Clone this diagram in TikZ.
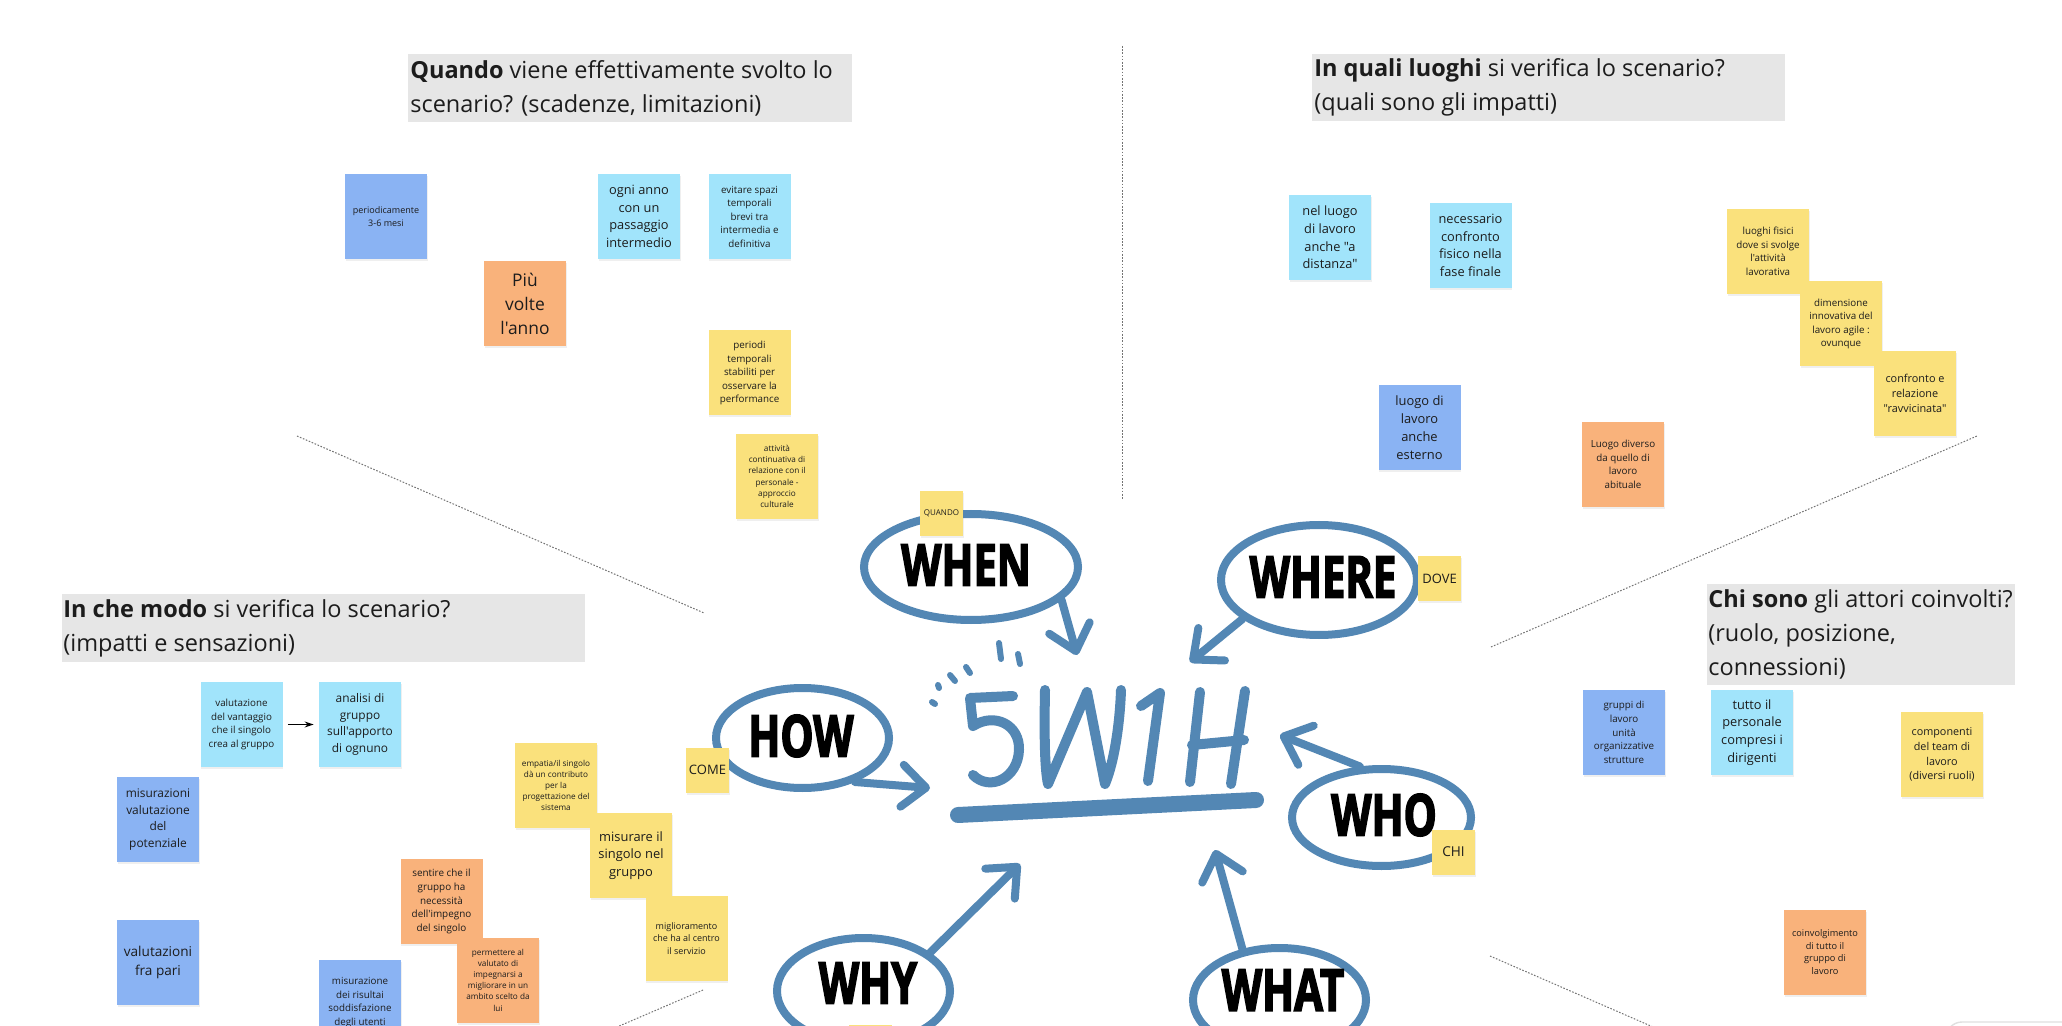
\documentclass[tikz,border=0pt]{standalone}
\usepackage{fontspec}
\setmainfont{Open Sans}[Ligatures=TeXOff]
\newfontfamily\handfont{Open Sans}[FakeStretch=0.72, BoldFeatures={FakeBold=2.5}]
\usetikzlibrary{arrows.meta,shapes.geometric,shadows}
\definecolor{nblue}{HTML}{8AB3F3}
\definecolor{ncyan}{HTML}{A1E4FB}
\definecolor{nyellow}{HTML}{FAE17C}
\definecolor{norange}{HTML}{F9B27B}
\definecolor{hgray}{HTML}{E6E6E6}
\definecolor{bblue}{HTML}{5387B4}
\definecolor{ink}{HTML}{1C1C1C}
\newcommand{\ft}[2]{\fontsize{#1pt}{#2pt}\selectfont}
\begin{document}
\begin{tikzpicture}[x=0.5pt,y=-0.5pt,
  note/.style={rectangle, inner sep=1pt, minimum width=41pt, minimum height=42.5pt, align=center, text=ink,
    drop shadow={shadow xshift=0.4pt, shadow yshift=-1pt, opacity=0.12}},
  smallnote/.style={note, minimum width=21.5pt, minimum height=22.5pt},
  header/.style={anchor=west, align=left, inner sep=0pt, text=ink, font=\ft{11.75}{17}},
  bubble/.style={ellipse, draw=bblue, line width=4pt, fill=white, inner sep=0pt},
  bubtext/.style={inner sep=0pt, font=\handfont\bfseries\ft{29}{30}, text=black},
  barrow/.style={draw=bblue, line width=4pt, line cap=round, line join=round, -{Straight Barb[length=12pt,width=21pt,round]}},
  glyph/.style={draw=bblue, line width=5pt, line cap=round, line join=round},
  ray/.style={draw=bblue, line width=3pt, line cap=round},
  divider/.style={draw=black!55, line width=0.5pt, dash pattern=on 0.8pt off 0.8pt}
]
\useasboundingbox (0,0) rectangle (2062,1026);
\clip (0,0) rectangle (2062,1026);
\fill[white] (0,0) rectangle (2062,1026);

% dividers
\draw[divider] (1122,46) -- (1122,500);
\draw[divider] (297,436) -- (704,613);
\draw[divider] (1491,647) -- (1977,436);
\draw[divider] (703,990) -- (610,1030);
\draw[divider] (1490,956) -- (1660,1030);
\draw[black!12, line width=0.7pt, rounded corners=8pt] (1946,1040) -- (1946,1022) -- (2080,1022);

% headers
\fill[hgray] (408,54) rectangle (852,122);
\node[header] (h1) at (410,88) {\textbf{Quando} viene effettivamente svolto lo\\scenario? (scadenze, limitazioni)};
\fill[hgray] (1312,54) rectangle (1785,121);
\node[header] (h2) at (1314,87.5) {\textbf{In quali luoghi} si verifica lo scenario?\\(quali sono gli impatti)};
\fill[hgray] (62,594) rectangle (585,662);
\node[header] (h3) at (63,628) {\textbf{In che modo} si verifica lo scenario?\\(impatti e sensazioni)};
\fill[hgray] (1707,584) rectangle (2015,685);
\node[header] (h4) at (1708,634.5) {\textbf{Chi sono} gli attori coinvolti?\\(ruolo, posizione,\\connessioni)};

% notes
\node[note, fill=nblue, font=\ft{4.5}{6.15}] (n1) at (386,216.5) {periodicamente\\3-6 mesi};
\node[note, fill=norange, font=\ft{8.7}{12}] (n2) at (525,303.5) {Più\\volte\\l'anno};
\node[note, fill=ncyan, font=\ft{6.4}{8.85}] (n3) at (639,216.5) {ogni anno\\con un\\passaggio\\intermedio};
\node[note, fill=ncyan, font=\ft{4.9}{6.75}] (n4) at (749.5,216.5) {evitare spazi\\temporali\\brevi tra\\intermedia e\\definitiva};
\node[note, fill=nyellow, font=\ft{4.9}{6.75}] (n5) at (749.5,373) {periodi\\temporali\\stabiliti per\\osservare la\\performance};
\node[note, fill=nyellow, font=\ft{4.1}{5.65}] (n6) at (777,476.5) {attività\\continuativa di\\relazione con il\\personale -\\approccio\\culturale};
\node[note, fill=ncyan, font=\ft{6.4}{8.85}] (n7) at (1330,237.5) {nel luogo\\di lavoro\\anche "a\\distanza"};
\node[note, fill=ncyan, font=\ft{6.4}{8.85}] (n8) at (1470.5,245.5) {necessario\\confronto\\fisico nella\\fase finale};
\node[note, fill=nyellow, font=\ft{4.9}{6.8}] (n9) at (1768,251.5) {luoghi fisici\\dove si svolge\\l'attività\\lavorativa};
\node[note, fill=nyellow, font=\ft{4.9}{6.8}] (n10) at (1841,324) {dimensione\\innovativa del\\lavoro agile :\\ovunque};
\node[note, fill=nyellow, font=\ft{5.45}{7.5}] (n11) at (1915,393.5) {confronto e\\relazione\\"ravvicinata"};
\node[note, fill=nblue, font=\ft{6.45}{8.9}] (n12) at (1419.5,427.5) {luogo di\\lavoro\\anche\\esterno};
\node[note, fill=norange, font=\ft{4.9}{6.8}] (n13) at (1623,464.5) {Luogo diverso\\da quello di\\lavoro\\abituale};
\node[note, fill=ncyan, font=\ft{4.9}{6.8}] (n14) at (241.5,724.5) {valutazione\\del vantaggio\\che il singolo\\crea al gruppo};
\node[note, fill=ncyan, font=\ft{5.95}{8.2}] (n15) at (360,724.5) {analisi di\\gruppo\\sull'apporto\\di ognuno};
\node[note, fill=nyellow, font=\ft{4.1}{5.6}] (n16) at (556,785.5) {empatia/il singolo\\dà un contributo\\per la\\progettazione del\\sistema};
\node[note, fill=nyellow, font=\ft{6.45}{8.9}] (n18) at (631,855.5) {misurare il\\singolo nel\\gruppo};
\node[note, fill=norange, font=\ft{4.95}{6.85}] (n19) at (441.5,901.5) {sentire che il\\gruppo ha\\necessità\\dell'impegno\\del singolo};
\node[note, fill=norange, font=\ft{4.1}{5.6}] (n20) at (498,980) {permettere al\\valutato di\\impegnarsi a\\migliorare in un\\ambito scelto da\\lui};
\node[note, fill=nyellow, font=\ft{4.5}{6.25}] (n21) at (686.5,938.5) {miglioramento\\che ha al centro\\il servizio};
\node[note, fill=nblue, font=\ft{4.9}{6.7}] (n22) at (360,1002.5) {misurazione\\dei risultai\\soddisfazione\\degli utenti};
\node[note, fill=nblue, font=\ft{5.95}{8.2}] (n23) at (158,819.5) {misurazioni\\valutazione\\del\\potenziale};
\node[note, fill=nblue, font=\ft{6.8}{9.35}] (n24) at (158,962.5) {valutazioni\\fra pari};
\node[note, fill=nblue, font=\ft{4.9}{6.8}] (n25) at (1624,732.5) {gruppi di\\lavoro\\unità\\organizzative\\strutture};
\node[note, fill=ncyan, font=\ft{6.4}{8.85}] (n26) at (1752,732.5) {tutto il\\personale\\compresi i\\dirigenti};
\node[note, fill=nyellow, font=\ft{5.4}{7.45}] (n27) at (1942,754.5) {componenti\\del team di\\lavoro\\(diversi ruoli)};
\node[note, fill=norange, font=\ft{4.6}{6.35}] (n28) at (1825,952) {coinvolgimento\\di tutto il\\gruppo di\\lavoro};

\draw[-{Stealth[length=4.5pt,width=3pt]}, line width=0.6pt, shorten <=2.5pt, shorten >=2.5pt] (n14.east) -- (n15.west);

% 5W1H
\draw[glyph] (1013,696) -- (970,698) -- (973,726) .. controls (995,712) and (1020,725) .. (1019,750) .. controls (1018,778) and (990,792) .. (973,775);
\draw[glyph] (1045,690) .. controls (1044,740) and (1045,770) .. (1048,784) -- (1087,692) -- (1105,784) .. controls (1115,760) and (1120,720) .. (1121,690);
\draw[glyph] (1141,706) -- (1160,693) -- (1148,781);
\draw[glyph] (1200,692) -- (1190,782);
\draw[glyph] (1245,691) -- (1231,784);
\draw[glyph] (1192,745) -- (1244,740);
\draw[bblue, line width=8pt, line cap=round] (958,815) -- (1256,800);
\draw[ray] (999,643) -- (1001,659);
\draw[ray] (1018,654) -- (1020,664);
\draw[ray] (966,667) -- (970,673);
\draw[ray] (950,675) -- (955,681);
\draw[ray] (938,685) -- (939,688);
\draw[ray] (932,702) -- (935,704);

% bubbles
\node[bubble, minimum width=107pt, minimum height=53pt] (when) at (971,567) {};
\node[bubble, minimum width=98pt, minimum height=55pt] (where) at (1319,580) {};
\node[bubble, minimum width=86.5pt, minimum height=50pt] (how) at (802.5,738) {};
\node[bubble, minimum width=89.5pt, minimum height=48.5pt] (who) at (1381.5,817.5) {};
\node[bubble, minimum width=86.5pt, minimum height=53pt] (why) at (863.5,991) {};
\node[bubble, minimum width=86.5pt, minimum height=52pt] (what) at (1279.5,1000) {};
\node[bubtext] (whenT) at (966,565) {WHEN};
\node[bubtext] (whereT) at (1323,577) {WHERE};
\node[bubtext] (howT) at (801,736) {HOW};
\node[bubtext] (whoT) at (1384,815) {WHO};
\node[bubtext] (whyT) at (868,983) {WHY};
\node[bubtext] (whatT) at (1283,990) {WHAT};

\coordinate (tWhen) at (1077,655);
\coordinate (tWhere) at (1190,662);
\coordinate (tHow) at (930,788);
\coordinate (tWho) at (1280,735);
\coordinate (tWhy) at (1020,864);
\coordinate (tWhat) at (1215,850);
\draw[barrow] (when.-20) -- (tWhen);
\draw[barrow] (where.-153) -- (tWhere);
\draw[barrow] (how.-40) -- (tHow);
\draw[barrow] (who.113) -- (tWho);
\draw[barrow] (why.30) -- (tWhy);
\draw[barrow] (what.126) -- (tWhat);

% small notes
\node[smallnote, fill=nyellow, font=\ft{6.5}{8}] (n17) at (707.5,770) {COME};
\node[smallnote, fill=nyellow, font=\ft{4}{5}] (n29) at (941.5,513.5) {QUANDO};
\node[smallnote, fill=nyellow, font=\ft{6.5}{8}] (n30) at (1439.5,578.5) {DOVE};
\node[smallnote, fill=nyellow, font=\ft{6.8}{8}] (n31) at (1453.5,852) {CHI};
\node[smallnote, fill=nyellow] (n32) at (870.5,1047) {};
\end{tikzpicture}
\end{document}
